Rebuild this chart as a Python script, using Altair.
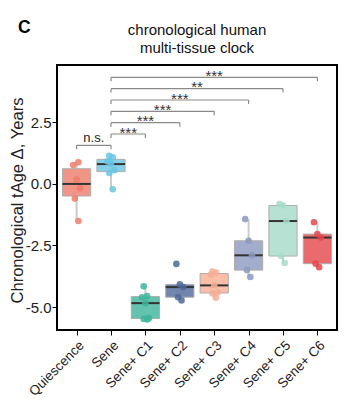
import altair as alt
import pandas as pd

groups = ["Quiescence", "Sene", "Sene+ C1", "Sene+ C2", "Sene+ C3",
          "Sene+ C4", "Sene+ C5", "Sene+ C6"]
colors = ["#EE7B6B", "#69C6E2", "#3DB59A", "#4E6899", "#F7AE93",
          "#8C98C0", "#A6DBC9", "#E5474B"]

quiescence = [-1.51, -0.60, -0.18, 0.17, 0.76, 0.87]
sene = [-0.22, 0.44, 0.55, 0.80, 0.91, 1.07, 1.14]
sene_c1 = [-5.50, -5.48, -5.45, -4.84, -4.60, -4.55, -4.16]
sene_c2 = [-4.73, -4.60, -4.19, -4.08, -3.25]
sene_c3 = [-4.62, -4.45, -4.41, -4.12, -3.68, -3.60, -3.56]
sene_c4 = [-3.78, -3.50, -2.90, -2.31, -1.43]
sene_c5 = [-3.21, -2.93, -1.51, -0.88, -0.82]
sene_c6 = [-3.38, -3.24, -2.18, -2.04, -1.56]

series = [quiescence, sene, sene_c1, sene_c2, sene_c3, sene_c4, sene_c5, sene_c6]

# significance comparisons
cmp_start = ["Quiescence", "Sene", "Sene", "Sene", "Sene", "Sene", "Sene"]
cmp_end = ["Sene", "Sene+ C1", "Sene+ C2", "Sene+ C3", "Sene+ C4", "Sene+ C5", "Sene+ C6"]
cmp_label = ["n.s.", "***", "***", "***", "***", "**", "***"]

title_text = "chronological human\nmulti-tissue clock"
panel_letter = "C"

rows = []
for g, vals in zip(groups, series):
    for v in vals:
        rows.append({"group": g, "idx": groups.index(g), "value": v})
df = pd.DataFrame(rows)

br = pd.DataFrame({
    "s": [groups.index(a) for a in cmp_start],
    "e": [groups.index(b) for b in cmp_end],
    "label": cmp_label,
    "rank": list(range(len(cmp_label))),
})

FONT = "Liberation Sans"
XDOM = [-0.57, 7.57]
YDOM = [-5.93, 4.82]

label_expr = "[" + ",".join("'" + g + "'" for g in groups) + "][datum.value]"

xq = alt.X("idx:Q", scale=alt.Scale(domain=XDOM, nice=False, zero=False),
           axis=alt.Axis(values=list(range(8)), labelExpr=label_expr, title=None,
                         labelAngle=315, labelFontSize=13.5, labelPadding=3,
                         labelOverlap=False, labelBound=False,
                         tickSize=5, labelColor="#222", labelFont=FONT))
yq = alt.Y("value:Q", scale=alt.Scale(domain=YDOM, nice=False, zero=False),
           axis=alt.Axis(values=[-5, -2.5, 0, 2.5],
                         labelExpr="replace(format(datum.value, '.1f'), '\u2212', '-')",
                         title="Chronological tAge \u0394, Years", titleFontSize=16.5,
                         titleFontWeight="normal", titleFont=FONT, titleColor="#222",
                         titleAngle=270, titleBaseline="alphabetic", titleX=-35, titleY=135,
                         titleAlign="center", labelOverlap=False,
                         labelFontSize=15, labelColor="#222", labelFont=FONT,
                         tickSize=5, labelPadding=1))

color = alt.Color("group:N", scale=alt.Scale(domain=groups, range=colors), legend=None)

base = alt.Chart(df)

zero_line = alt.Chart(pd.DataFrame({"z": [0]})).mark_rule(
    color="#888", strokeDash=[4, 3], strokeWidth=1
).encode(y=alt.Y("z:Q", scale=alt.Scale(domain=YDOM, nice=False)))

stats = base.transform_joinaggregate(
    q1="q1(value)", q3="q3(value)", med="median(value)", groupby=["idx", "group"]
).transform_calculate(
    inval="datum.value >= datum.q1 - 1.5*(datum.q3-datum.q1) && datum.value <= datum.q3 + 1.5*(datum.q3-datum.q1) ? datum.value : null"
).transform_aggregate(
    lo="min(inval)", hi="max(inval)", q1="min(q1)", q3="min(q3)", med="min(med)",
    groupby=["idx", "group"]
).transform_calculate(
    xl="datum.idx - 0.41", xr="datum.idx + 0.41"
)

whisk_lo = stats.mark_rule(color="#cccccc", strokeWidth=2).encode(
    x=xq, y=alt.Y("lo:Q"), y2="q1:Q")
whisk_hi = stats.mark_rule(color="#cccccc", strokeWidth=2).encode(
    x=xq, y=alt.Y("q3:Q"), y2="hi:Q")
boxes = stats.mark_rect(opacity=0.8, stroke="#9a9a9a", strokeWidth=1).encode(
    x=alt.X("xl:Q"), x2="xr:Q", y=alt.Y("q1:Q"), y2="q3:Q", color=color)
medians = stats.mark_rule(color="#333333", strokeWidth=2).encode(
    x=alt.X("xl:Q"), x2="xr:Q", y=alt.Y("med:Q"))

points = base.transform_window(
    rn="row_number()", groupby=["idx"]
).transform_calculate(
    xj="datum.idx + (((datum.rn * 3) % 5) - 2) * 0.05"
).mark_circle(size=44, opacity=0.85).encode(
    x=alt.X("xj:Q"), y=alt.Y("value:Q"), color=color)

bb = alt.Chart(br).transform_calculate(
    lvl="1.56 + datum.rank * 0.46", lvl2="1.56 + datum.rank * 0.46 - 0.16",
    mid="(datum.s + datum.e) / 2"
)
br_h = bb.mark_rule(color="#8a8a8a", strokeWidth=1.2).encode(
    x=alt.X("s:Q"), x2="e:Q", y=alt.Y("lvl:Q"))
br_l = bb.mark_rule(color="#8a8a8a", strokeWidth=1.2).encode(
    x=alt.X("s:Q"), y=alt.Y("lvl:Q"), y2="lvl2:Q")
br_r = bb.mark_rule(color="#8a8a8a", strokeWidth=1.2).encode(
    x=alt.X("e:Q"), y=alt.Y("lvl:Q"), y2="lvl2:Q")
stars = bb.transform_filter("datum.label != 'n.s.'").mark_text(
    fontSize=15, font=FONT, color="#333", baseline="alphabetic", dy=3.6
).encode(x=alt.X("mid:Q"), y=alt.Y("lvl:Q"), text="label:N")
ns = bb.transform_filter("datum.label == 'n.s.'").mark_text(
    fontSize=13, font=FONT, color="#222", baseline="alphabetic", dy=-3
).encode(x=alt.X("mid:Q"), y=alt.Y("lvl:Q"), text="label:N")

panel = alt.Chart(pd.DataFrame({"t": [panel_letter]})).mark_text(
    fontSize=17.5, fontWeight="bold", font=FONT, align="left", baseline="alphabetic",
    color="black"
).encode(x=alt.value(-39), y=alt.value(-32), text="t:N")

title = alt.Chart(pd.DataFrame({"t": [title_text]})).mark_text(
    fontSize=15, font=FONT, align="center", baseline="top", lineBreak="\n",
    lineHeight=18.4, color="#111"
).encode(x=alt.value(140), y=alt.value(-42), text="t:N")

chart = alt.layer(
    zero_line, whisk_lo, whisk_hi, boxes, medians, points,
    br_h, br_l, br_r, stars, ns, panel, title
).encode(x=xq, y=yq).properties(
    width=280, height=265,
    padding={"left": 49, "top": 57, "right": 14, "bottom": 70},
    autosize=alt.AutoSizeParams(type="none"),
).configure_view(stroke="black", strokeWidth=2).configure_axis(
    domain=False, grid=False, tickColor="black", tickWidth=1
)

chart.save("out.html", embed_options={"renderer": "svg", "actions": False})
